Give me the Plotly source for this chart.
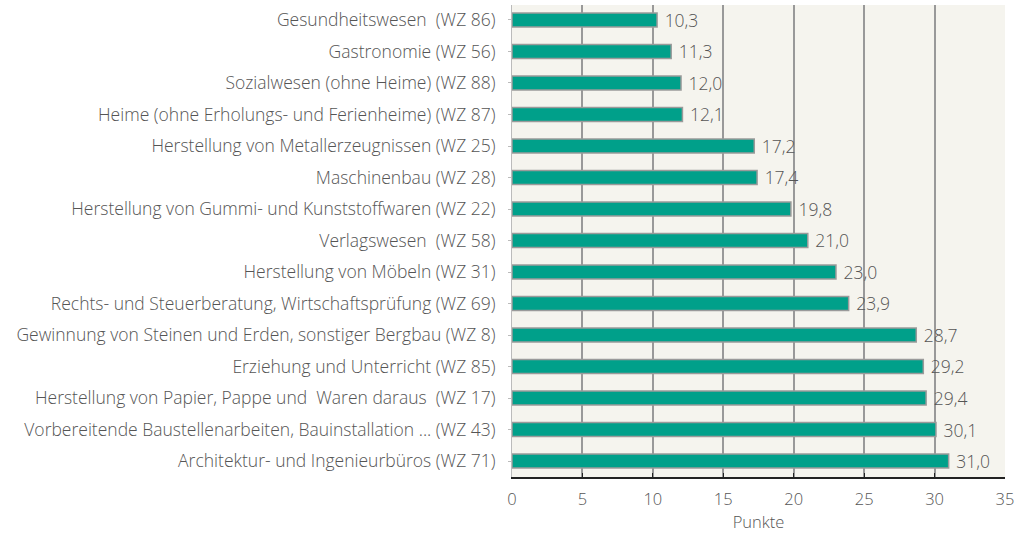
import plotly.graph_objects as go

categories = [
    "Gesundheitswesen  (WZ 86)",
    "Gastronomie (WZ 56)",
    "Sozialwesen (ohne Heime) (WZ 88)",
    "Heime (ohne Erholungs- und Ferienheime) (WZ 87)",
    "Herstellung von Metallerzeugnissen (WZ 25)",
    "Maschinenbau (WZ 28)",
    "Herstellung von Gummi- und Kunststoffwaren (WZ 22)",
    "Verlagswesen  (WZ 58)",
    "Herstellung von Möbeln (WZ 31)",
    "Rechts- und Steuerberatung, Wirtschaftsprüfung (WZ 69)",
    "Gewinnung von Steinen und Erden, sonstiger Bergbau (WZ 8)",
    "Erziehung und Unterricht (WZ 85)",
    "Herstellung von Papier, Pappe und  Waren daraus  (WZ 17)",
    "Vorbereitende Baustellenarbeiten, Bauinstallation ... (WZ 43)",
    "Architektur- und Ingenieurbüros (WZ 71)",
]
values = [10.3, 11.3, 12.0, 12.1, 17.2, 17.4, 19.8, 21.0, 23.0, 23.9, 28.7, 29.2, 29.4, 30.1, 31.0]
labels = [" " + f"{v:.1f}".replace(".", ",") for v in values]
x_ticks = [0, 5, 10, 15, 20, 25, 30, 35]

font_family = "Open Sans"
text_color = "#555555"

fig = go.Figure(go.Bar(
    x=values,
    y=categories,
    orientation="h",
    width=0.45,
    marker=dict(color="#00A08A", line=dict(color="#9a9a9a", width=1.5)),
    text=labels,
    textposition="outside",
    constraintext="none",
    textfont=dict(family=font_family, size=17.5, color=text_color, weight=300),
    cliponaxis=False,
    hoverinfo="skip",
))

fig.update_layout(
    width=1016,
    height=535,
    margin=dict(l=512, r=11, t=5, b=58, autoexpand=False),
    paper_bgcolor="white",
    plot_bgcolor="#F5F4EE",
    font=dict(family=font_family, size=17, color=text_color, weight=300),
    showlegend=False,
)

fig.update_xaxes(
    range=[0, 35],
    tickvals=x_ticks,
    ticktext=[str(t) for t in x_ticks],
    showgrid=True,
    gridcolor="#999999",
    gridwidth=2,
    zeroline=False,
    showline=True,
    linecolor="#222222",
    linewidth=2,
    ticks="inside",
    ticklen=4,
    tickcolor="#222222",
    ticklabelstandoff=6,
    automargin=False,
    tickfont=dict(size=16.5, color=text_color, weight=300),
    title=dict(text="Punkte", font=dict(size=16.5, color=text_color, weight=300), standoff=5),
)

fig.update_yaxes(
    categoryorder="array",
    categoryarray=categories,
    range=[14.508, -0.476],
    showline=True,
    linecolor="#bbbbbb",
    linewidth=1,
    ticks="outside",
    ticklen=3,
    tickcolor="#bbbbbb",
    ticklabelstandoff=9,
    automargin=False,
    tickfont=dict(size=17.5, color=text_color, weight=300),
    showgrid=False,
)

# remove the default page margin so the figure sits at the window origin
fig.write_html(
    "out.html",
    config={"displayModeBar": False},
    post_script="document.body.style.margin='0';",
)
